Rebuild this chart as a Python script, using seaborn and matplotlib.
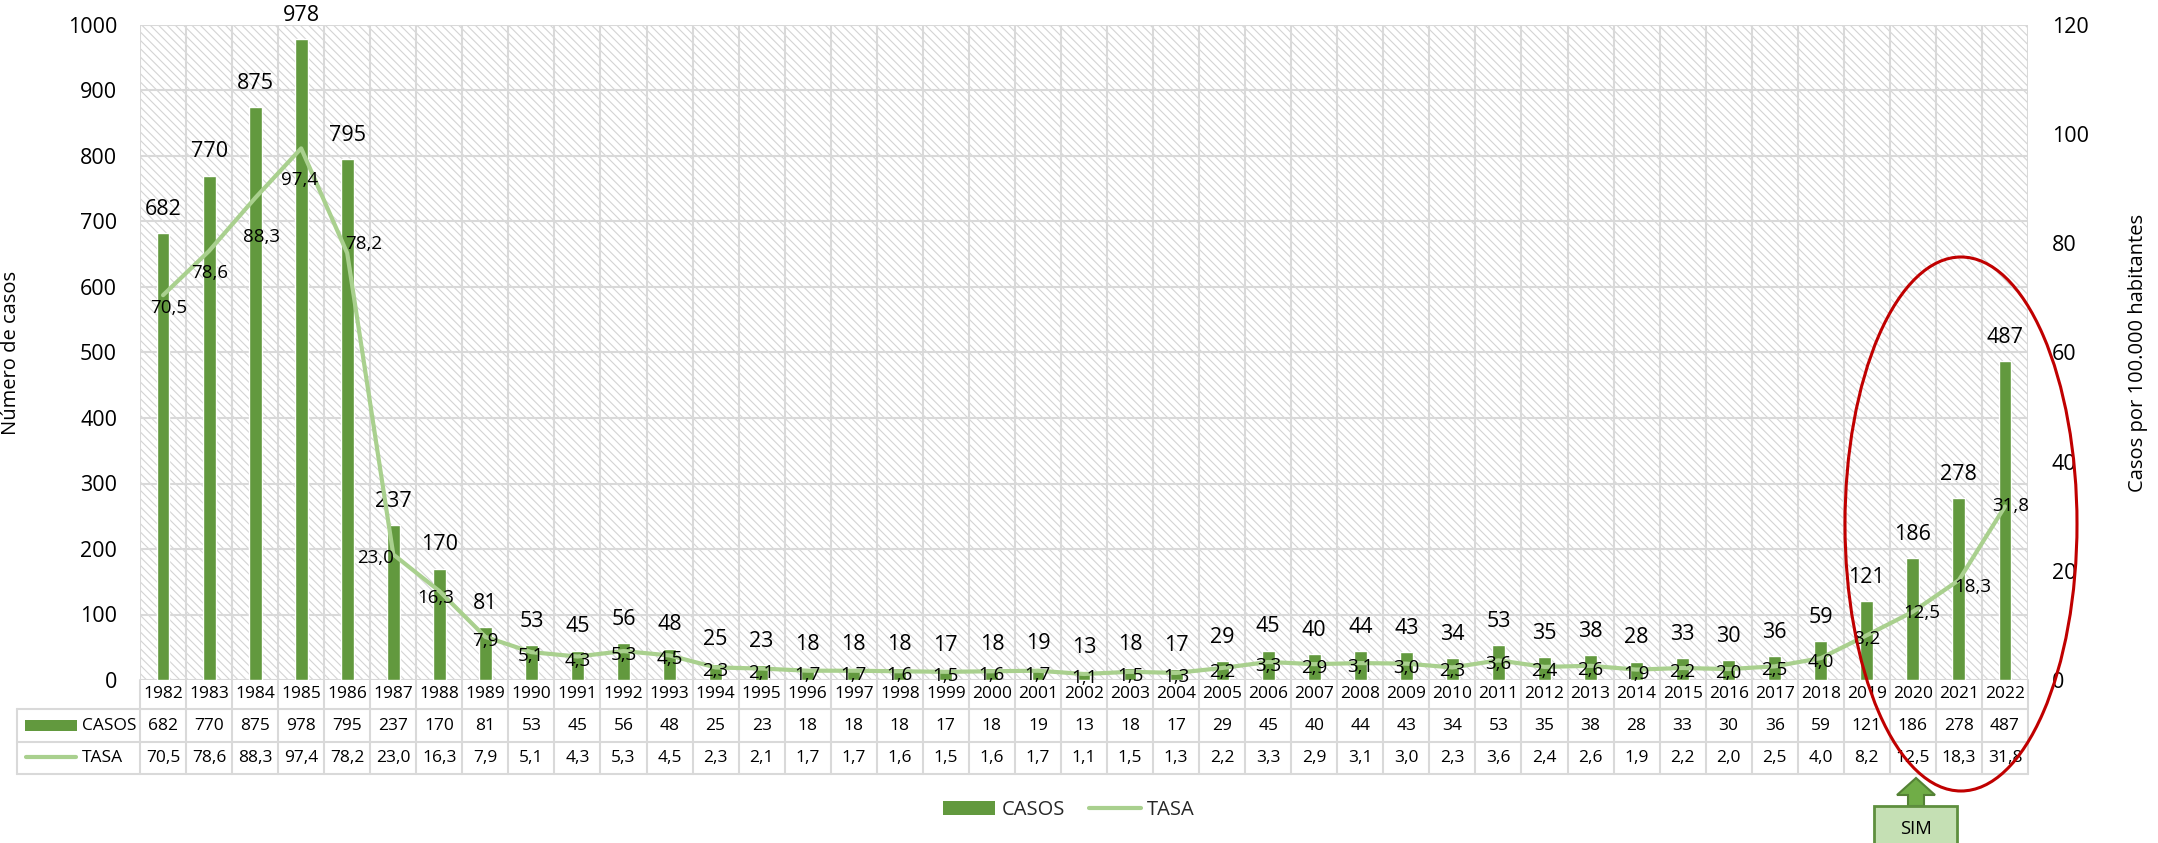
import numpy as np
import pandas as pd
import matplotlib
matplotlib.use("Agg")
import matplotlib.pyplot as plt
import matplotlib.transforms as mtransforms
import seaborn as sns
from matplotlib.patches import Rectangle, Ellipse, Polygon, Patch
from matplotlib.lines import Line2D

# ---------------------------
# Data
# ---------------------------
years = [1982, 1983, 1984, 1985, 1986, 1987, 1988, 1989, 1990, 1991,
         1992, 1993, 1994, 1995, 1996, 1997, 1998, 1999, 2000, 2001,
         2002, 2003, 2004, 2005, 2006, 2007, 2008, 2009, 2010, 2011,
         2012, 2013, 2014, 2015, 2016, 2017, 2018, 2019, 2020, 2021, 2022]
casos = [682, 770, 875, 978, 795, 237, 170, 81, 53, 45,
         56, 48, 25, 23, 18, 18, 18, 17, 18, 19,
         13, 18, 17, 29, 45, 40, 44, 43, 34, 53,
         35, 38, 28, 33, 30, 36, 59, 121, 186, 278, 487]
tasa = [70.5, 78.6, 88.3, 97.4, 78.2, 23.0, 16.3, 7.9, 5.1, 4.3,
        5.3, 4.5, 2.3, 2.1, 1.7, 1.7, 1.6, 1.5, 1.6, 1.7,
        1.1, 1.5, 1.3, 2.2, 3.3, 2.9, 3.1, 3.0, 2.3, 3.6,
        2.4, 2.6, 1.9, 2.2, 2.0, 2.5, 4.0, 8.2, 12.5, 18.3, 31.8]
series_names = ["CASOS", "TASA"]
left_label = "Número de casos"
right_label = "Casos por 100.000 habitantes"
note_text = "SIM"

# hand-placed line labels in the original (pixel nudges, +y = down)
label_nudge = {1982: (6, 13), 1983: (1, 22), 1984: (6, 39), 1985: (-2, 32),
               1986: (16, -9), 1987: (-18, 4), 1988: (-4, 7),
               2020: (9, 1), 2021: (14, 7), 2022: (6, 0)}

df = pd.DataFrame({"year": [str(y) for y in years], "casos": casos, "tasa": tasa})
df["pos"] = np.arange(len(df))

def fmt(v):
    return f"{v:.1f}".replace(".", ",")

# ---------------------------
# Style
# ---------------------------
sns.set_theme(style="white")
plt.rcParams["font.family"] = ["Open Sans", "DejaVu Sans"]
plt.rcParams["hatch.linewidth"] = 0.8

bar_color = "#62993E"
line_color = "#A9D08E"
grid_color = "#D9D9D9"

W, H = 2158, 843
fig = plt.figure(figsize=(W / 100, H / 100), dpi=100)
fig.patch.set_facecolor("white")

def fy(ypx):
    return 1 - ypx / H

ax = fig.add_axes([140 / W, fy(680), (2028 - 140) / W, (680 - 25) / H])

# hatched plot background
ax.add_patch(Rectangle((0, 0), 1, 1, transform=ax.transAxes, facecolor="white",
                       edgecolor="#D4D4D4", hatch="\\" * 4, lw=0, zorder=0))

sns.barplot(data=df, x="year", y="casos", color=bar_color, saturation=1,
            width=0.28, ax=ax, zorder=3)
ax.bar_label(ax.containers[0], labels=[str(c) for c in casos], padding=9.5,
             fontsize=15.5, color="black")

ax.set_xlim(-0.5, len(years) - 0.5)
ax.set_ylim(0, 1000)
ax.set_yticks(range(0, 1001, 100))
ax.set_xticks(np.arange(-0.5, len(years)), minor=True)
ax.set_axisbelow(True)
ax.grid(axis="y", which="major", color=grid_color, lw=1.5)
ax.grid(axis="x", which="minor", color=grid_color, lw=1.5)
ax.grid(axis="x", which="major", visible=False)
ax.tick_params(axis="x", which="both", length=0, labelbottom=False)
ax.tick_params(axis="y", length=0, labelsize=15.5, pad=16.5, labelcolor="black")
for s in ax.spines.values():
    s.set_visible(False)
ax.set_xlabel("")
ax.set_ylabel(left_label, fontsize=14.5, color="black")
ax.yaxis.set_label_coords((21 - 140) / 1888, 0.5)

# ---------------------------
# Rate line on the secondary axis
# ---------------------------
ax2 = ax.twinx()
sns.lineplot(data=df, x="pos", y="tasa", color=line_color, lw=3, ax=ax2,
             solid_capstyle="round", zorder=4)
ax2.set_ylim(0, 120)
ax2.set_yticks(range(0, 121, 20))
ax2.set_xlim(-0.5, len(years) - 0.5)
ax2.tick_params(axis="y", length=0, labelsize=15.5, pad=17, labelcolor="black")
ax2.tick_params(axis="x", which="both", length=0, labelbottom=False)
for s in ax2.spines.values():
    s.set_visible(False)
ax2.set_xlabel("")
ax2.set_ylabel(right_label, fontsize=14.5, color="black")
ax2.yaxis.set_label_coords((2128 - 140) / 1888, 0.5)

for i, (y, v) in enumerate(zip(years, tasa)):
    dx, dy = label_nudge.get(y, (0, 4))
    ax2.annotate(fmt(v), (i, v), xytext=(dx * 0.72, -dy * 0.72),
                 textcoords="offset points", ha="center", va="center",
                 fontsize=13.5, color="black", zorder=5)

# ---------------------------
# Data table under the plot
# ---------------------------
blend = mtransforms.blended_transform_factory(ax.transData, fig.transFigure)
rows_y = {"year": (680 + 709) / 2, "casos": (709 + 742) / 2, "tasa": (742 + 774) / 2}
tbl_font = 12.5
for i, (y, c, t) in enumerate(zip(years, casos, tasa)):
    ax.text(i, fy(rows_y["year"]), str(y), transform=blend, ha="center", va="center",
            fontsize=tbl_font, color="black", clip_on=False)
    ax.text(i, fy(rows_y["casos"]), str(c), transform=blend, ha="center", va="center",
            fontsize=tbl_font, color="black", clip_on=False)
    ax.text(i, fy(rows_y["tasa"]), fmt(t), transform=blend, ha="center", va="center",
            fontsize=tbl_font, color="black", clip_on=False)

for b in np.arange(-0.5, len(years)):
    fig.add_artist(Line2D([b, b], [fy(680), fy(774)], transform=blend,
                          color=grid_color, lw=1.5))
for ypx in (709, 742, 774):
    fig.add_artist(Line2D([17 / W, 2028 / W], [fy(ypx), fy(ypx)],
                          transform=fig.transFigure, color=grid_color, lw=1.5))
fig.add_artist(Line2D([17 / W, 17 / W], [fy(709), fy(774)],
                      transform=fig.transFigure, color=grid_color, lw=1.5))

# row headers with legend keys
fig.add_artist(Rectangle((25 / W, fy(731)), 52 / W, 11 / H, transform=fig.transFigure,
                         facecolor=bar_color, lw=0))
fig.text(82 / W, fy(rows_y["casos"]), series_names[0], ha="left", va="center",
         fontsize=tbl_font, color="black")
fig.add_artist(Line2D([26 / W, 76 / W], [fy(757), fy(757)], transform=fig.transFigure,
                      color=line_color, lw=3, solid_capstyle="round"))
fig.text(82 / W, fy(rows_y["tasa"]), series_names[1], ha="left", va="center",
         fontsize=tbl_font, color="black")

# ---------------------------
# Legend
# ---------------------------
handles = [Patch(facecolor=bar_color, lw=0),
           Line2D([], [], color=line_color, lw=3, solid_capstyle="round")]
fig.legend(handles, series_names, loc="center", bbox_to_anchor=(1069 / W, fy(810)),
           ncol=2, frameon=False, fontsize=14.5, handlelength=2.6, handleheight=0.7,
           handletextpad=0.3, columnspacing=1.2)

# ---------------------------
# Annotations: red ellipse + SIM arrow/box
# ---------------------------
fig.add_artist(Ellipse((1961 / W, fy(524)), 232 / W, 534 / H, transform=fig.transFigure,
                       fill=False, edgecolor="#C00000", lw=2.2, zorder=10))
arrow_px = [(1916, 778), (1935, 795), (1924, 795), (1924, 806),
            (1908, 806), (1908, 795), (1897, 795)]
fig.add_artist(Polygon([(x / W, fy(y)) for x, y in arrow_px], closed=True,
                       transform=fig.transFigure, facecolor="#70AD47",
                       edgecolor="#548235", lw=1.5, zorder=11))
fig.add_artist(Rectangle((1874 / W, fy(850)), 83 / W, 44 / H, transform=fig.transFigure,
                         facecolor="#C5E0B4", edgecolor="#5E8F3E", lw=2, zorder=11))
fig.text(1916 / W, fy(829), note_text, ha="center", va="center", fontsize=13.3,
         color="black", zorder=12)

fig.savefig("out.png", dpi=100)
plt.close(fig)
